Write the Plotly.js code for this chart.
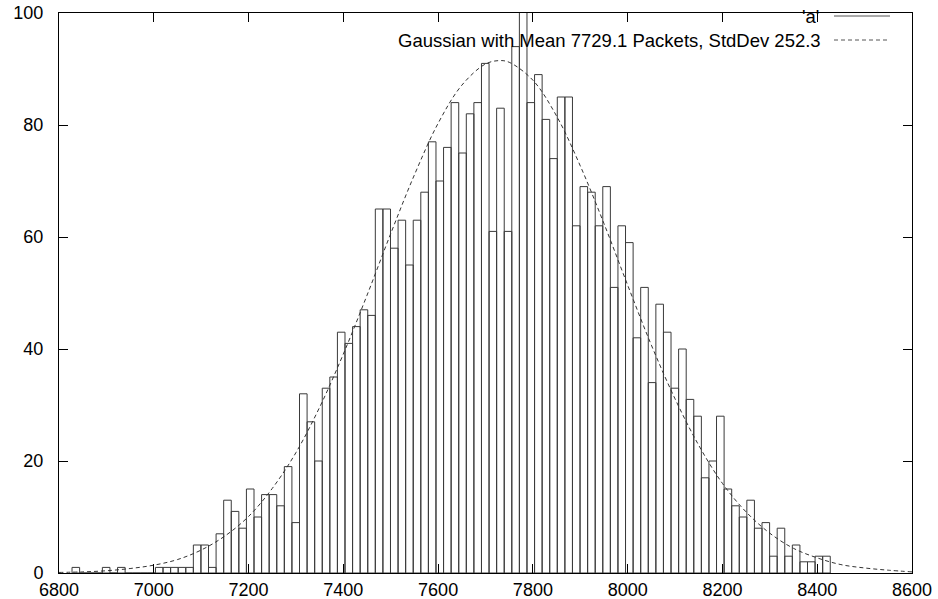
<!DOCTYPE html>
<html>
<head>
<meta charset="utf-8">
<script src="https://cdn.plot.ly/plotly-3.0.1.min.js"></script>
<style>html,body{margin:0;padding:0;background:#fff}#chart{width:938px;height:599px}</style>
</head>
<body>
<div id="chart"></div>
<script>
// Histogram bins (left edge of first bin and bin width, in packets)
const binStart = 6827.5;
const binWidth = 16;
// Counts per bin, from 6827.5 upward
const counts = [
  1, 0, 0, 0, 1, 0, 1, 0, 0, 0, 0,
  1, 1, 1, 1, 1, 5, 5, 1, 7, 13,
  11, 8, 15, 10, 14, 14, 12, 19, 9, 32,
  27, 20, 33, 35, 43, 41, 44, 47, 46, 65,
  65, 58, 63, 55, 63, 68, 77, 70, 76, 84,
  75, 82, 84, 91, 61, 83, 61, 94, 104, 84,
  89, 81, 74, 85, 85, 62, 69, 68, 62, 69,
  51, 62, 59, 42, 51, 34, 48, 43, 33, 40,
  31, 28, 17, 20, 28, 15, 12, 10, 13, 8,
  9, 3, 8, 3, 5, 2, 2, 3, 3
];
// Fitted Gaussian curve
const gaussX = [6800,6850,6900,6950,7000,7050,7100,7150,7200,7250,7300,7350,7400,7450,7500,7550,7600,7650,7700,7729,7750,7800,7850,7900,7950,8000,8050,8100,8150,8200,8250,8300,8350,8400,8450,8500,8550,8600];
const gaussY = [0.1,0.2,0.4,0.8,1.4,2.4,4.1,6.6,10.1,15.1,21.5,29.6,39.1,49.6,60.6,71.1,80.3,87.1,90.9,91.5,91.2,88.0,81.6,72.7,62.4,51.4,40.7,31.1,22.8,16.0,10.9,7.1,4.4,2.7,1.5,0.9,0.5,0.2];
const xTicks = [6800,7000,7200,7400,7600,7800,8000,8200,8400,8600];
const yTicks = [0,20,40,60,80,100];
const labelA = "'a'";
const labelG = "Gaussian with Mean 7729.1 Packets, StdDev 252.3";

const binCenters = counts.map((c, i) => binStart + binWidth * i + binWidth / 2);

const FONT = {family: 'Liberation Sans, Arial, Helvetica, sans-serif', size: 18, color: '#000'};
const LFONT = {family: 'Liberation Sans, Arial, Helvetica, sans-serif', size: 18.5, color: '#000'};

const traces = [
  {
    type: 'bar', x: binCenters, y: counts, width: binWidth,
    marker: {color: 'rgba(255,255,255,0)', line: {color: '#3a3a3a', width: 1}},
    showlegend: false, hoverinfo: 'x+y'
  },
  {
    type: 'scatter', mode: 'lines', x: gaussX, y: gaussY,
    line: {color: '#333', width: 1, dash: '4px,3px', shape: 'spline'},
    showlegend: false
  }
];

const L = 59, R = 912, T = 13, B = 573;
const px = v => (v - L) / (R - L);
const py = v => (B - v) / (B - T);

const layout = {
  width: 938, height: 599,
  margin: {l: L, r: 938 - R, t: T, b: 599 - B, pad: 0},
  paper_bgcolor: '#fff', plot_bgcolor: '#fff',
  font: FONT,
  showlegend: false,
  bargap: 0,
  xaxis: {
    range: [6800, 8600], tickvals: xTicks, ticktext: xTicks.map(String),
    ticks: 'inside', ticklen: 9, tickwidth: 1, tickcolor: '#000',
    showline: true, linecolor: '#000', linewidth: 1, mirror: 'allticks',
    showgrid: false, zeroline: false, tickfont: FONT, fixedrange: true
  },
  yaxis: {
    range: [0, 100], tickvals: yTicks, ticktext: yTicks.map(String),
    ticks: 'inside', ticklen: 9, tickwidth: 1, tickcolor: '#000',
    showline: true, linecolor: '#000', linewidth: 1, mirror: 'allticks',
    showgrid: false, zeroline: false, tickfont: FONT, fixedrange: true,
    ticklabelstandoff: 11
  },
  annotations: [
    {xref: 'paper', yref: 'paper', x: px(821), y: py(17), xanchor: 'right', yanchor: 'middle',
     text: labelA, showarrow: false, font: LFONT},
    {xref: 'paper', yref: 'paper', x: px(823), y: py(40), xanchor: 'right', yanchor: 'middle',
     text: labelG, showarrow: false, font: LFONT}
  ],
  shapes: [
    {type: 'line', xref: 'paper', yref: 'paper', x0: px(834), x1: px(890), y0: py(16), y1: py(16),
     line: {color: '#555', width: 1}},
    {type: 'line', xref: 'paper', yref: 'paper', x0: px(834), x1: px(890), y0: py(40), y1: py(40),
     line: {color: '#555', width: 1, dash: '4px,3px'}}
  ]
};

Plotly.newPlot('chart', traces, layout, {displayModeBar: false, staticPlot: true});
</script>
</body>
</html>
